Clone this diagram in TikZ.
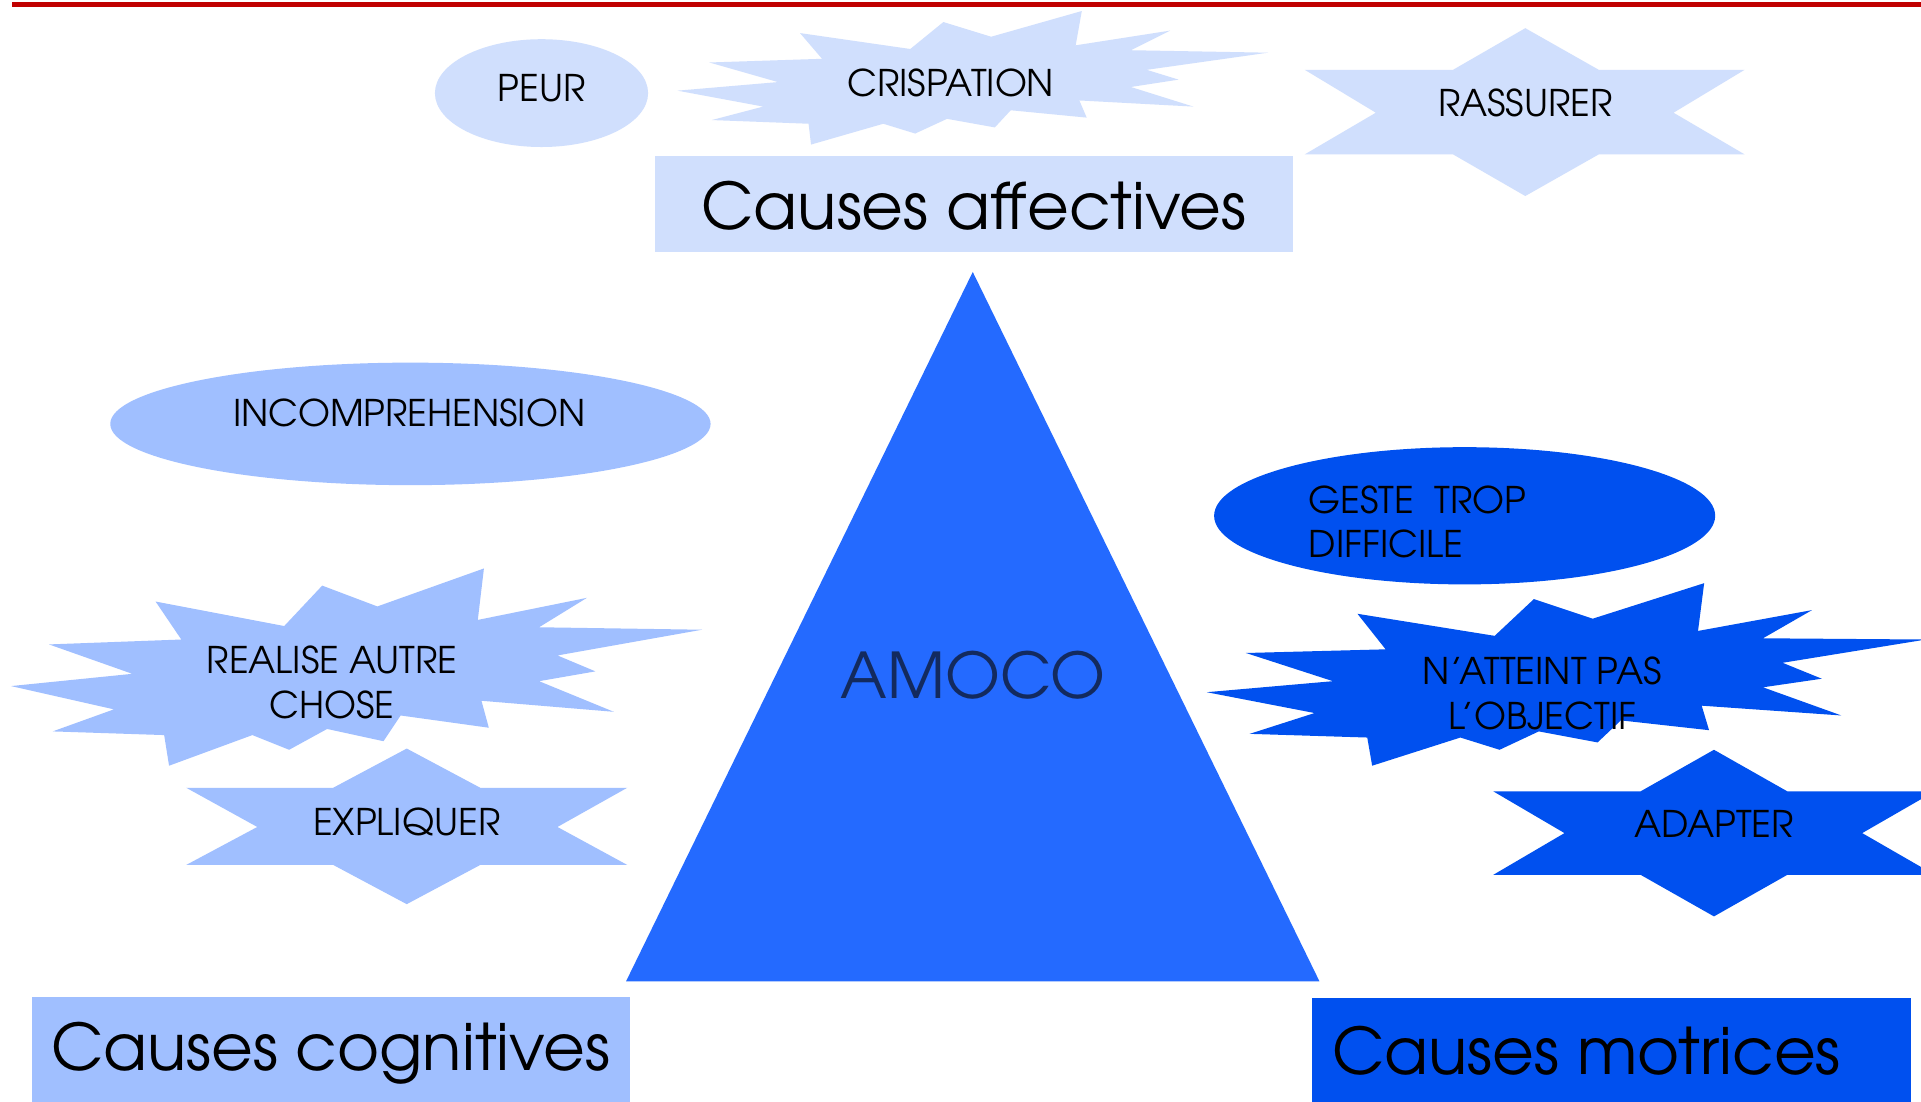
\documentclass[tikz,border=0pt]{standalone}
\usepackage{fontspec}
\setmainfont{TeX Gyre Adventor}
\definecolor{lightc}{RGB}{208,223,253}
\definecolor{medc}{RGB}{160,191,255}
\definecolor{darkc}{RGB}{0,80,239}
\definecolor{tric}{RGB}{36,106,255}
\definecolor{amococ}{RGB}{19,42,94}
\definecolor{redline}{RGB}{192,0,0}
\begin{document}
\begin{tikzpicture}[x=1pt,y=-1pt,
  lbl/.style={font=\fontsize{30}{36}\selectfont, inner sep=0pt, text=black},
  biglbl/.style={font=\fontsize{52.5}{60}\selectfont, inner sep=0pt, text=black, anchor=base}]
\useasboundingbox (0,0) rectangle (1568,898.7);
\fill[white] (0,0) rectangle (1568,898.7);
% red line
\fill[redline] (10,1.9) rectangle (1568,5.4);

% ---------- affective group ----------
\fill[lightc] (442,76) ellipse [x radius=87, y radius=44];
\node[lbl, anchor=base] (peur) at (442,83) {PEUR};

\fill[lightc] (553,74) -- (635,67) -- (579,51) -- (671,48) -- (653,27) -- (743,40) -- (770,18) -- (809,30) -- (883,9) -- (878,37) -- (955,25) -- (923,41) -- (1035,43) -- (936,57) -- (962,65) -- (923,71) -- (974,87) -- (881,82) -- (887,96) -- (825,90) -- (812,104) -- (773,97) -- (747,109) -- (721,101) -- (662,118) -- (660,101) -- (581,98) -- (623,87) -- cycle;
\node[lbl, anchor=base] (crisp) at (776,79) {CRISPATION};

\fill[lightc] (1245,23) -- (1305,57) -- (1424,57) -- (1366,92) -- (1424,126) -- (1305,126) -- (1245,160) -- (1186,126) -- (1065,126) -- (1123,92) -- (1065,57) -- (1186,57) -- cycle;
\node[lbl, anchor=base] (rass) at (1245,95) {RASSURER};

\fill[lightc] (535,127) rectangle (1055,206);
\node[biglbl] (aff) at (795,187) {Causes affectives};

% ---------- triangle ----------
\fill[tric] (794,222) -- (1077,801) -- (511,801) -- cycle;
\node[font=\fontsize{51.5}{60}\selectfont, inner sep=0pt, text=amococ, anchor=base] (amoco) at (794,570) {AMOCO};

% ---------- cognitive group ----------
\fill[medc] (335,346) ellipse [x radius=245, y radius=50];
\node[lbl, anchor=base] (incomp) at (334,348) {INCOMPREHENSION};

\fill[medc] (9,560) -- (108,550) -- (40,526) -- (148,522) -- (127,491) -- (232,511) -- (263,478) -- (308,495) -- (395,464) -- (390,506) -- (479,488) -- (440,512) -- (573,514) -- (455,535) -- (486,548) -- (440,556) -- (501,581) -- (393,572) -- (399,594) -- (327,584) -- (313,605) -- (267,595) -- (236,612) -- (206,600) -- (138,625) -- (134,600) -- (43,597) -- (93,579) -- cycle;
\node[lbl, align=center] (real) at (271,557) {REALISE AUTRE\\CHOSE};

\fill[medc] (332,611) -- (392,643) -- (512,643) -- (455,675) -- (512,706) -- (392,706) -- (332,738) -- (272,706) -- (152,706) -- (210,675) -- (152,643) -- (272,643) -- cycle;
\node[lbl, anchor=base] (expl) at (332,682) {EXPLIQUER};

\fill[medc] (26,814) rectangle (514,905);
\node[biglbl] (cog) at (270,874) {Causes cognitives};

% ---------- motor group ----------
\fill[darkc] (1195.5,421) ellipse [x radius=204.5, y radius=56];
\node[lbl, align=left, anchor=west] (geste) at (1068,426) {GESTE~~TROP\\DIFFICILE};

\fill[darkc] (985,565) -- (1088,556) -- (1017,533) -- (1131,530) -- (1108,501) -- (1220,519) -- (1252,489) -- (1300,505) -- (1391,476) -- (1386,515) -- (1479,498) -- (1439,521) -- (1572,522) -- (1455,541) -- (1487,554) -- (1439,561) -- (1503,584) -- (1389,576) -- (1395,596) -- (1323,588) -- (1304,606) -- (1256,597) -- (1224,612) -- (1192,602) -- (1120,625) -- (1116,602) -- (1020,599) -- (1073,582) -- cycle;
\node[lbl, align=center] (natt) at (1259,566) {N’ATTEINT PAS\\L’OBJECTIF};

\fill[darkc] (1399,612) -- (1459,646) -- (1579,646) -- (1520,680) -- (1579,714) -- (1459,714) -- (1399,748) -- (1339,714) -- (1219,714) -- (1277,680) -- (1219,646) -- (1339,646) -- cycle;
\node[lbl, anchor=base] (adapt) at (1399,684) {ADAPTER};

\fill[darkc] (1071,815) rectangle (1560,905);
\node[biglbl] (mot) at (1295,877) {Causes motrices};
\end{tikzpicture}
\end{document}
